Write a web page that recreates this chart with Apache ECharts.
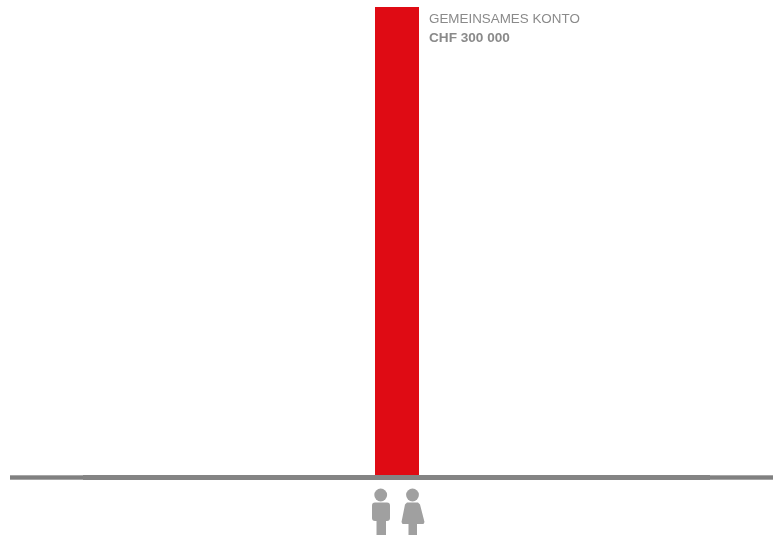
<!DOCTYPE html>
<html><head><meta charset="utf-8">
<style>html,body{margin:0;padding:0;background:#fff}#c{width:773px;height:535px}</style>
<script src="https://cdn.jsdelivr.net/npm/echarts@6/dist/echarts.min.js"></script>
</head><body><div id="c"></div>
<script>
const categories = ['Gemeinsames Konto'];
const values = [300000];
const labelTitle = 'GEMEINSAMES KONTO';
const labelValue = 'CHF 300 000';

const chart = echarts.init(document.getElementById('c'), null, {renderer:'canvas'});
const T=7, B=60;
// baseline layers: [left, right, width, colour]
const baseLayers = [[10,0,5,'#a6a6a6'],[10,0,3,'#808080'],[83,63,5,'#848484']];
const grids=[{left:21,right:0,top:T,bottom:B}], xs=[{type:'category',data:categories,gridIndex:0,axisLine:{show:false},axisTick:{show:false},axisLabel:{show:false}}], ys=[{type:'value',min:0,max:300000,gridIndex:0,show:false}];
baseLayers.forEach((l,i)=>{
  grids.push({left:l[0],right:l[1],top:T,bottom:B});
  xs.push({type:'category',data:categories,gridIndex:i+1,offset:2.5,axisLine:{show:true,onZero:false,lineStyle:{color:l[3],width:l[2],cap:'butt'}},axisTick:{show:false},axisLabel:{show:false}});
  ys.push({type:'value',gridIndex:i+1,show:false});
});
const grey='#a0a0a0';
chart.setOption({
  animation:false,
  backgroundColor:'#fff',
  grid:grids,xAxis:xs,yAxis:ys,
  series:[{
    type:'bar',xAxisIndex:0,yAxisIndex:0,data:values,barWidth:44,
    itemStyle:{color:'#df0b14'},z:5,
    label:{show:true,position:[54,3],formatter:()=>`{a|${labelTitle}}\n{b|${labelValue}}`,
      rich:{a:{fontFamily:'Liberation Sans',fontSize:13.4,color:'#8a8a8a',lineHeight:19},
            b:{fontFamily:'Liberation Sans',fontSize:13.6,fontWeight:'bold',color:'#8a8a8a',lineHeight:19}}}
  }],
  graphic:[
    {type:'circle',shape:{cx:380.7,cy:495,r:6.4},style:{fill:grey}},
    {type:'rect',shape:{x:372,y:502.5,width:18,height:18.5,r:3},style:{fill:grey}},
    {type:'rect',shape:{x:376.5,y:515,width:9.5,height:20},style:{fill:grey}},
    {type:'circle',shape:{cx:412.5,cy:495,r:6.4},style:{fill:grey}},
    {type:'polygon',shape:{points:[[407,502.5],[418,502.5],[420,504.5],[424.5,522],[423.5,524],[417,524],[417,535],[408.5,535],[408.5,524],[402.5,524],[401.5,522],[405,504.5]]},style:{fill:grey}}
  ]
});
</script></body></html>
